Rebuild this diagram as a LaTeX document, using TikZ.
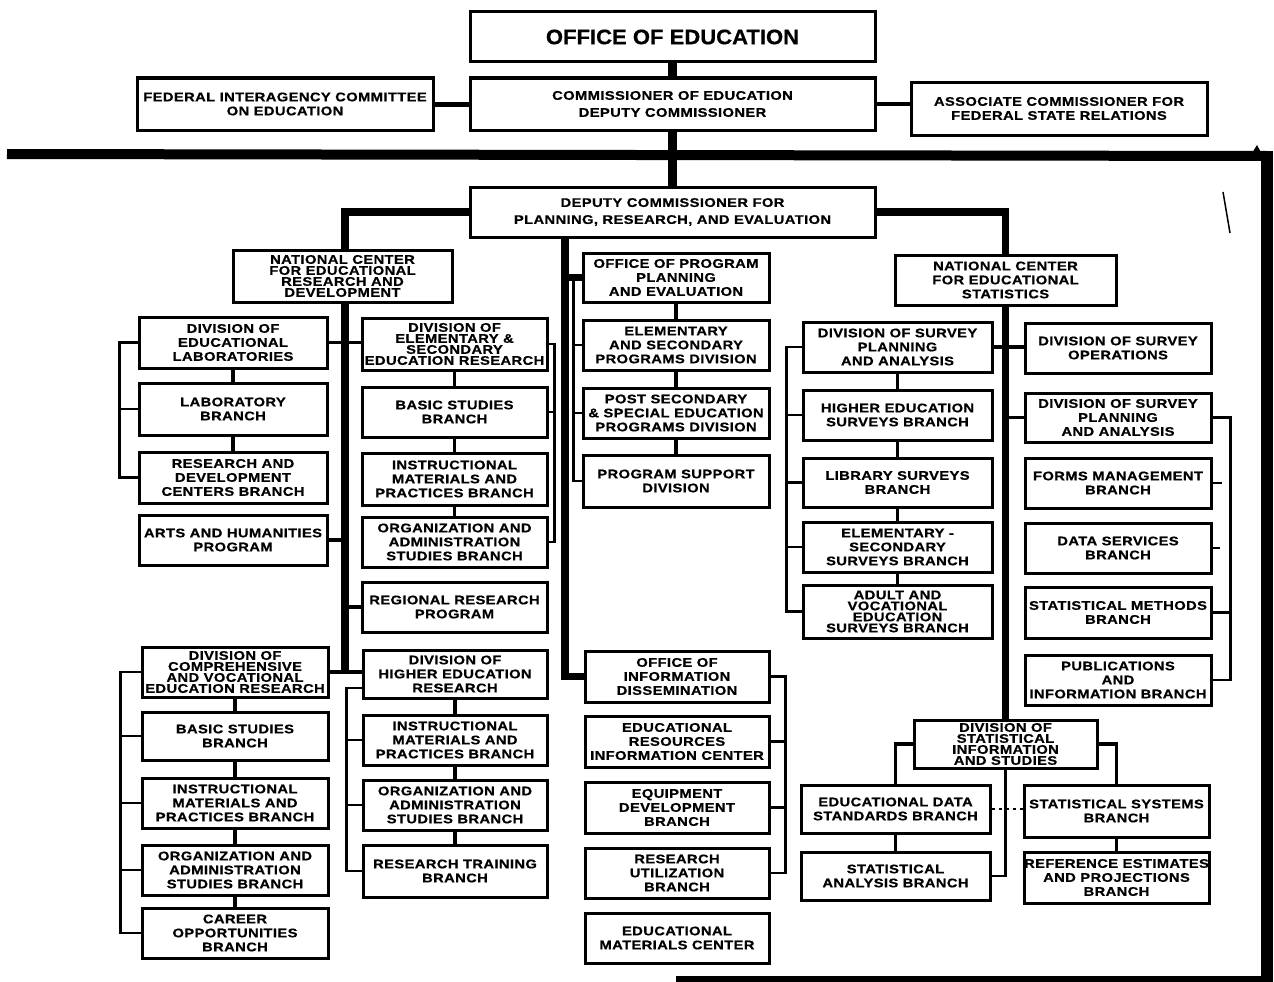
\documentclass[tikz,border=0pt]{standalone}
\usepackage{fontspec}
\newfontfamily\chartfont{Liberation Sans}[FakeStretch=1.18,LetterSpace=3,FakeBold=0.6]
\newfontfamily\titlefont{Liberation Sans}[FakeStretch=1.05,FakeBold=0.6]
\usetikzlibrary{backgrounds}
\tikzset{
  box/.style={draw=black, line width=3pt, fill=white, inner sep=0pt, align=center,
    font=\chartfont\bfseries\fontsize{12.5}{14}\selectfont},
  tight/.style={font=\chartfont\bfseries\fontsize{12.5}{11}\selectfont},
  two/.style={font=\chartfont\bfseries\fontsize{12.5}{17}\selectfont},
  title/.style={font=\titlefont\bfseries\fontsize{21}{24}\selectfont},
  trunk/.style={line width=7.5pt},
  heavy/.style={line width=9pt},
  link/.style={line width=3.5pt},
  brk/.style={line width=2.4pt},
  dotlink/.style={line width=2.5pt, dash pattern=on 3pt off 4pt}
}
\newcommand\obox[7][]{\node[box,#1,minimum width={(#5-#3)*1pt},minimum height={(#6-#4)*1pt}] (#2) at ({(#3+#5)/2},{(#4+#6)/2}) {#7};}
\begin{document}
\begin{tikzpicture}[x=1pt,y=-1pt]
\useasboundingbox (0,0) rectangle (1274,982);
% ---- top
\obox[title]{oe}{470}{12}{875}{62}{OFFICE OF EDUCATION}
\obox[two]{comm}{470}{78}{875}{130}{COMMISSIONER OF EDUCATION\\DEPUTY COMMISSIONER}
\obox{fed}{137}{78}{433}{130}{FEDERAL INTERAGENCY COMMITTEE\\ON EDUCATION}
\obox{assoc}{911}{82}{1207}{135}{ASSOCIATE COMMISSIONER FOR\\FEDERAL STATE RELATIONS}
\obox[two]{dep}{470}{187}{875}{237}{DEPUTY COMMISSIONER FOR\\PLANNING, RESEARCH, AND EVALUATION}
% ---- research and development
\obox[tight]{ncerd}{233}{250}{452}{302}{NATIONAL CENTER\\FOR EDUCATIONAL\\RESEARCH AND\\DEVELOPMENT}
\obox{labs}{139}{317}{327}{368}{DIVISION OF\\EDUCATIONAL\\LABORATORIES}
\obox{labbr}{139}{383}{327}{435}{LABORATORY\\BRANCH}
\obox{rdc}{139}{452}{327}{503}{RESEARCH AND\\DEVELOPMENT\\CENTERS BRANCH}
\obox{arts}{139}{515}{327}{565}{ARTS AND HUMANITIES\\PROGRAM}
\obox[tight]{elem}{362}{318}{547}{370}{DIVISION OF\\ELEMENTARY \&\\SECONDARY\\EDUCATION RESEARCH}
\obox{basic}{362}{387}{547}{437}{BASIC STUDIES\\BRANCH}
\obox{instr}{362}{453}{547}{505}{INSTRUCTIONAL\\MATERIALS AND\\PRACTICES BRANCH}
\obox{org}{362}{517}{547}{567}{ORGANIZATION AND\\ADMINISTRATION\\STUDIES BRANCH}
\obox{reg}{362}{582}{547}{632}{REGIONAL RESEARCH\\PROGRAM}
\obox[tight]{comp}{142}{647}{328}{697}{DIVISION OF\\COMPREHENSIVE\\AND VOCATIONAL\\EDUCATION RESEARCH}
\obox{cbasic}{142}{712}{328}{760}{BASIC STUDIES\\BRANCH}
\obox{cinstr}{142}{778}{328}{828}{INSTRUCTIONAL\\MATERIALS AND\\PRACTICES BRANCH}
\obox{corg}{142}{845}{328}{895}{ORGANIZATION AND\\ADMINISTRATION\\STUDIES BRANCH}
\obox{career}{142}{908}{328}{958}{CAREER\\OPPORTUNITIES\\BRANCH}
\obox{higher}{363}{650}{547}{698}{DIVISION OF\\HIGHER EDUCATION\\RESEARCH}
\obox{hinstr}{363}{715}{547}{765}{INSTRUCTIONAL\\MATERIALS AND\\PRACTICES BRANCH}
\obox{horg}{363}{780}{547}{830}{ORGANIZATION AND\\ADMINISTRATION\\STUDIES BRANCH}
\obox{rtrain}{363}{845}{547}{897}{RESEARCH TRAINING\\BRANCH}
% ---- middle
\obox{oppe}{583}{253}{769}{302}{OFFICE OF PROGRAM\\PLANNING\\AND EVALUATION}
\obox{esp}{583}{320}{769}{370}{ELEMENTARY\\AND SECONDARY\\PROGRAMS DIVISION}
\obox{post}{583}{388}{769}{438}{POST SECONDARY\\\& SPECIAL EDUCATION\\PROGRAMS DIVISION}
\obox{psd}{583}{455}{769}{507}{PROGRAM SUPPORT\\DIVISION}
\obox{oid}{585}{651}{769}{702}{OFFICE OF\\INFORMATION\\DISSEMINATION}
\obox{eric}{585}{716}{769}{767}{EDUCATIONAL\\RESOURCES\\INFORMATION CENTER}
\obox{equip}{585}{782}{769}{833}{EQUIPMENT\\DEVELOPMENT\\BRANCH}
\obox{rub}{585}{848}{769}{898}{RESEARCH\\UTILIZATION\\BRANCH}
\obox{emc}{585}{913}{769}{963}{EDUCATIONAL\\MATERIALS CENTER}
% ---- statistics
\obox{nces}{895}{255}{1116}{305}{NATIONAL CENTER\\FOR EDUCATIONAL\\STATISTICS}
\obox{sp1}{803}{322}{992}{372}{DIVISION OF SURVEY\\PLANNING\\AND ANALYSIS}
\obox{hes}{803}{390}{992}{440}{HIGHER EDUCATION\\SURVEYS BRANCH}
\obox{lib}{803}{458}{992}{507}{LIBRARY SURVEYS\\BRANCH}
\obox{ess}{803}{522}{992}{572}{ELEMENTARY -\\SECONDARY\\SURVEYS BRANCH}
\obox[tight]{adult}{803}{585}{992}{638}{ADULT AND\\VOCATIONAL\\EDUCATION\\SURVEYS BRANCH}
\obox{sops}{1025}{323}{1211}{373}{DIVISION OF SURVEY\\OPERATIONS}
\obox{sp2}{1025}{393}{1211}{442}{DIVISION OF SURVEY\\PLANNING\\AND ANALYSIS}
\obox{forms}{1025}{458}{1211}{508}{FORMS MANAGEMENT\\BRANCH}
\obox{data}{1025}{523}{1211}{573}{DATA SERVICES\\BRANCH}
\obox{stat}{1025}{587}{1211}{638}{STATISTICAL METHODS\\BRANCH}
\obox{pub}{1025}{655}{1211}{705}{PUBLICATIONS\\AND\\INFORMATION BRANCH}
\obox[tight]{dsi}{914}{720}{1097}{768}{DIVISION OF\\STATISTICAL\\INFORMATION\\AND STUDIES}
\obox{eds}{801}{785}{990}{833}{EDUCATIONAL DATA\\STANDARDS BRANCH}
\obox{sab}{801}{852}{990}{900}{STATISTICAL\\ANALYSIS BRANCH}
\obox{sss}{1024}{785}{1209}{837}{STATISTICAL SYSTEMS\\BRANCH}
\obox{refe}{1024}{852}{1209}{903}{REFERENCE ESTIMATES\\AND PROJECTIONS\\BRANCH}
% ---- connectors
\coordinate (barL) at (7,154);
\coordinate (tr) at (1267,156);
\coordinate (br) at (1267,979);
\coordinate (botL) at (676,979);
\coordinate (lv) at (345,672);
\coordinate (mv) at (565,676.5);
\begin{scope}[on background layer]
\fill[white] (0,0) rectangle (1274,982);
\draw[line width=10pt] (barL) -- (tr);
\draw[line width=12pt] ([yshift=5pt]tr) -- (br);
\draw[line width=7pt] ([xshift=6pt]br) -- (botL);
\fill (1249,158) -- (1257,145) -- (1264,158) -- cycle;
\draw[line width=1.5pt] (1223,192) -- (1230,233);
\draw[heavy] (oe.south) -- (comm.north);
\draw[heavy] (comm.south) -- (dep.north);
\draw[line width=5pt] (fed.east) -- (comm.west);
\draw[line width=4pt] (comm.east) -- (comm.east -| assoc.west);
\draw[trunk] (dep.west) -| (lv);
\draw[trunk] (dep.south -| mv) -- (mv) -- (oid.west);
\draw[trunk] (oppe.west -| mv) -- (oppe.west);
\draw[trunk] (dep.east) -| (nces.north);
\draw[trunk] (nces.south) -- (dsi.north);
\draw[link] (labs.east) -- (labs.east -| elem.west);
\draw[link] (arts.east) -- (arts.east -| lv);
\draw[link] (reg.west) -- (reg.west -| lv);
\draw[link] (comp.east) -- (comp.east -| higher.west);
\draw[link] (sp1.east) -- (sp1.east -| sops.west);
\draw[link] (sp2.west -| nces.south) -- (sp2.west);
\draw[link] (labs) -- (labbr) -- (rdc);
\draw[link] (elem) -- (basic) -- (instr) -- (org);
\draw[link] (comp) -- (cbasic) -- (cinstr) -- (corg) -- (career);
\draw[link] (higher) -- (hinstr) -- (horg) -- (rtrain);
\draw[link] (oppe) -- (esp) -- (post) -- (psd);
\draw[link] (sp1) -- (hes) -- (lib) -- (ess) -- (adult);
\draw[link] (dsi.west) -| (eds.north);
\draw[link] (dsi.east) -| (sss.north);
\draw[link] (eds) -- (sab);
\draw[link] (sss) -- (refe);
% brackets
\draw[brk] (labs.west) -- ++(-18,0) |- (rdc.west);
\draw[brk] (labbr.west) -- ++(-18,0);
\draw[brk] (elem.east) -- ++(6,0) |- (org.east);
\draw[brk] (basic.east) -- ++(6,0);
\draw[brk] (oppe.west) ++(-8,0) |- (psd.west);
\draw[brk] (esp.west) -- ++(-8,0);
\draw[brk] (post.west) -- ++(-8,0);
\draw[brk] (comp.west) -- ++(-20,0) |- (career.west);
\draw[brk] (cbasic.west) -- ++(-20,0);
\draw[brk] (cinstr.west) -- ++(-20,0);
\draw[brk] (corg.west) -- ++(-20,0);
\draw[brk] ([yshift=-14pt]higher.west) -- ++(-15,0) |- (rtrain.west);
\draw[brk] (hinstr.west) -- ++(-15,0);
\draw[brk] (horg.west) -- ++(-15,0);
\draw[brk] (sp1.west) -- ++(-15,0) |- (adult.west);
\draw[brk] (hes.west) -- ++(-15,0);
\draw[brk] (lib.west) -- ++(-15,0);
\draw[brk] (ess.west) -- ++(-15,0);
\draw[brk] (sp2.east) -- ++(18,0) |- (pub.east);
\draw[brk] (stat.east) -- ++(18,0);
\draw[brk] (forms.east) -- ++(9,0);
\draw[brk] (data.east) -- ++(7,0);
\draw[brk] (oid.east) -- ++(15,0) |- (rub.east);
\draw[brk] (eric.east) -- ++(15,0);
\draw[brk] (equip.east) -- ++(15,0);
\draw[dotlink] (eds.east) -- (eds.east -| sss.west);
\draw[brk] (dsi.south) |- (sab.east);
\end{scope}
\end{tikzpicture}
\end{document}
